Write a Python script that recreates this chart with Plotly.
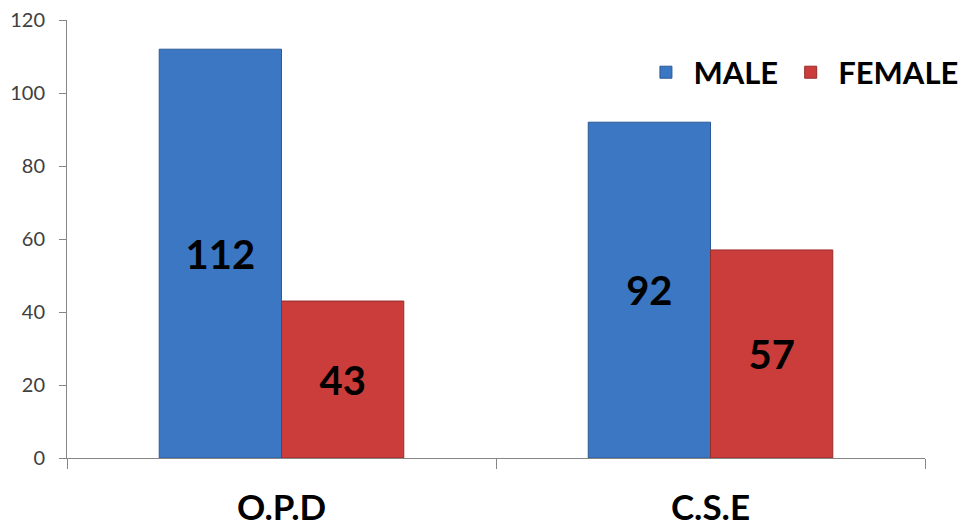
import plotly.graph_objects as go

categories = ["O.P.D", "C.S.E"]
male = [112, 92]
female = [43, 57]
y_ticks = [0, 20, 40, 60, 80, 100, 120]

fig = go.Figure()
fig.add_trace(go.Bar(
    name="MALE", x=categories, y=male,
    marker=dict(color="#3B77C2", line=dict(color="#2C5A96", width=1)),
    text=male, textposition="inside", insidetextanchor="middle",
    textfont=dict(family="Lato", size=40, color="black", weight="bold"),
    textangle=0,
))
fig.add_trace(go.Bar(
    name="FEMALE", x=categories, y=female,
    marker=dict(color="#CB3D3A", line=dict(color="#962D2B", width=1)),
    text=female, textposition="inside", insidetextanchor="middle",
    textfont=dict(family="Lato", size=40, color="black", weight="bold"),
    textangle=0,
))

fig.update_layout(
    width=969, height=526,
    margin=dict(l=59, r=52, t=12, b=76, autoexpand=False),
    paper_bgcolor="white", plot_bgcolor="white",
    barmode="group", bargap=0.43, bargroupgap=0,
    font=dict(family="Lato", color="#404040"),
    showlegend=True,
    legend=dict(
        orientation="h", x=0.666, y=0.88, xanchor="left", yanchor="middle",
        font=dict(family="Lato", size=31, color="black", weight="bold"),
        bgcolor="rgba(0,0,0,0)", itemwidth=45, tracegroupgap=0,
    ),
    xaxis=dict(
        automargin=False,
        showline=True, linecolor="#868686", linewidth=1,
        ticks="outside", tickson="boundaries", ticklen=10, tickcolor="#868686",
        ticklabelstandoff=19,
        tickfont=dict(family="Lato", size=35, color="black", weight="bold"),
        showgrid=False, zeroline=False,
    ),
    yaxis=dict(
        automargin=False, ticklabeloverflow="allow",
        range=[0, 120], tickvals=y_ticks,
        showline=True, linecolor="#868686", linewidth=1,
        ticks="outside", ticklen=7, tickcolor="#868686",
        ticklabelstandoff=10,
        tickfont=dict(family="Lato", size=20, color="#404040"),
        showgrid=False, zeroline=False,
    ),
)

fig.write_html("out.html")
